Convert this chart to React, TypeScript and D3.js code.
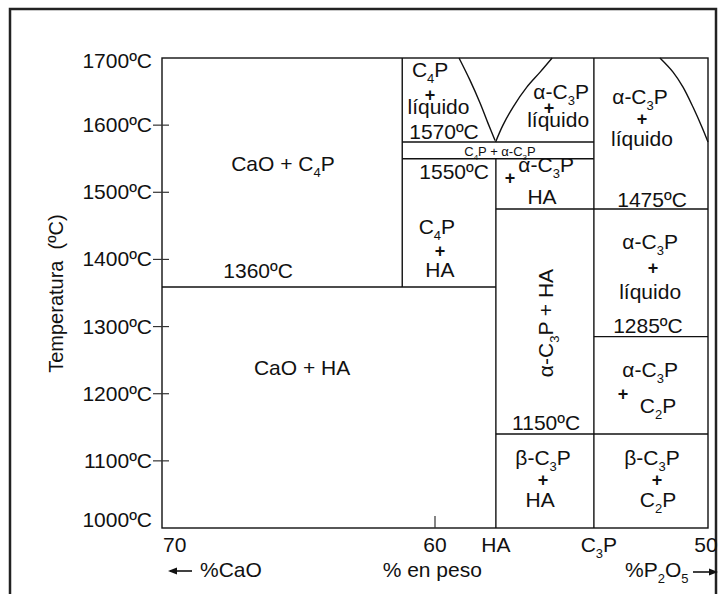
import React from "react";
import * as d3 from "d3";

// ---- data ----
const tempLabels = [1000, 1100, 1200, 1300, 1400, 1500, 1600, 1700];
const tempTicks = [1100, 1200, 1300, 1400, 1500, 1600];
const compTickLabels = ["70", "60", "HA", "C_3P", "50"];
const compTickValues = [70, 60, 57.77, 54.18, 50];
const compTickMarks = [60];

// key compositions (wt% CaO)
const C4P = 61.2;
const HA = 57.77;
const C3P = 54.18;

// invariant / boundary temperatures
const hSegments: [number, number, number][] = [
  [70, HA, 1359],
  [C4P, C3P, 1575],
  [C4P, C3P, 1550],
  [HA, 50, 1475],
  [C3P, 50, 1285],
  [HA, 50, 1140],
];
const vSegments: [number, number, number][] = [
  [C4P, 1359, 1700],
  [HA, 1000, 1550],
  [C3P, 1000, 1700],
];

// liquidus curves [wt% CaO, T]
const liquidusC4P: [number, number][] = [
  [59.12, 1700], [58.72, 1667], [58.35, 1633], [58.06, 1603], [57.8, 1577],
];
const liquidusC3Pleft: [number, number][] = [
  [57.78, 1575], [57.51, 1600], [57.14, 1627], [56.63, 1657], [56.15, 1679], [55.71, 1700],
];
const liquidusC3Pright: [number, number][] = [
  [51.76, 1700], [51.28, 1679], [50.92, 1657], [50.55, 1627], [50.22, 1597], [50.0, 1575],
];

// phase-field labels: [text, wt% CaO, T, font size]
const labels: [string, number, number, number][] = [
  ["CaO + C_4P", 65.57, 1531.7, 21],
  ["1360ºC", 66.48, 1372.3, 21],
  ["CaO + HA", 64.87, 1227.9, 21],
  ["C_4P", 59.93, 1437.9, 21],
  ["+", 59.82, 1403.6, 18],
  ["HA", 59.82, 1373.8, 21],
  ["1550ºC", 59.3, 1519.8, 21],
  ["C_4P + α-C_3P", 57.62, 1554, 13],
  ["C_4P", 60.18, 1671.7, 21],
  ["+", 60.18, 1636, 18],
  ["líquido", 59.87, 1616.6, 21],
  ["1570ºC", 59.67, 1579.4, 21],
  ["α-C_3P", 55.38, 1638.9, 21],
  ["+", 55.82, 1616.5, 18],
  ["líquido", 55.49, 1597.2, 21],
  ["α-C_3P", 55.93, 1530.2, 21],
  ["+", 57.25, 1512, 18],
  ["HA", 56.08, 1482.6, 21],
  ["α-C_3P", 52.49, 1632, 21],
  ["+", 52.42, 1600, 18],
  ["líquido", 52.42, 1569, 21],
  ["1475ºC", 52.05, 1478.1, 21],
  ["α-C_3P", 52.12, 1415.5, 21],
  ["+", 52.01, 1378, 18],
  ["líquido", 52.12, 1341.1, 21],
  ["1285ºC", 52.2, 1290.4, 21],
  ["α-C_3P", 52.12, 1224.9, 21],
  ["+", 53.11, 1190, 18],
  ["C_2P", 51.83, 1171.3, 21],
  ["1150ºC", 55.93, 1146, 21],
  ["β-C_3P", 56.04, 1093.8, 21],
  ["+", 56.04, 1062, 18],
  ["HA", 56.15, 1031.3, 21],
  ["β-C_3P", 52.05, 1093.8, 21],
  ["+", 51.87, 1062, 18],
  ["C_2P", 51.83, 1031.3, 21],
];
const rotatedLabel: [string, number, number] = ["α-C_3P + HA", 55.68, 1305.3];

const FONT = "'Liberation Sans', Arial, Helvetica, sans-serif";
const INK = "#111";

function Rich({ s, size }: { s: string; size: number }) {
  const parts = s.split(/(_\d)/).filter((p) => p.length);
  const sub = Math.round(size * 0.62);
  const shift = Math.round(size * 0.28);
  const out: React.ReactNode[] = [];
  let down = false;
  parts.forEach((p, i) => {
    if (p.startsWith("_")) {
      out.push(
        <tspan key={i} fontSize={sub} dy={shift}>
          {p.slice(1)}
        </tspan>
      );
      down = true;
    } else {
      out.push(
        <tspan key={i} dy={down ? -shift : 0}>
          {p}
        </tspan>
      );
      down = false;
    }
  });
  return <>{out}</>;
}

export default function App() {
  const W = 720;
  const H = 594;
  const x = d3.scaleLinear().domain([70, 50]).range([162, 708]);
  const y = d3.scaleLinear().domain([1000, 1700]).range([528, 58]);
  const line = d3
    .line<[number, number]>()
    .x((d) => x(d[0]))
    .y((d) => y(d[1]))
    .curve(d3.curveCatmullRom);

  return (
    <svg
      width={W}
      height={H}
      style={{ position: "absolute", left: 0, top: 0, background: "#fff" }}
      fontFamily={FONT}
    >
      <rect x={0} y={0} width={W} height={H} fill="#fff" />
      {/* outer frame */}
      <rect x={10} y={9} width={706} height={620} fill="none" stroke="#222" strokeWidth={2.5} />

      {/* plot frame */}
      <rect
        x={x(70)}
        y={y(1700)}
        width={x(50) - x(70)}
        height={y(1000) - y(1700)}
        fill="none"
        stroke={INK}
        strokeWidth={1.4}
      />

      {/* boundaries */}
      {hSegments.map(([a, b, t], i) => (
        <line key={"h" + i} x1={x(a)} x2={x(b)} y1={y(t)} y2={y(t)} stroke={INK} strokeWidth={1.4} />
      ))}
      {vSegments.map(([c, t1, t2], i) => (
        <line key={"v" + i} x1={x(c)} x2={x(c)} y1={y(t1)} y2={y(t2)} stroke={INK} strokeWidth={1.4} />
      ))}
      {[liquidusC4P, liquidusC3Pleft, liquidusC3Pright].map((d, i) => (
        <path key={"c" + i} d={line(d) || ""} fill="none" stroke={INK} strokeWidth={1.4} />
      ))}

      {/* y ticks */}
      {tempTicks.map((t) => (
        <line key={"yt" + t} x1={x(70) - 9} x2={x(70) + 7} y1={y(t)} y2={y(t)} stroke="#333" strokeWidth={1.2} />
      ))}
      {tempLabels.map((t) => {
        let yy = y(t) + 7;
        if (t === 1700) yy = y(t) + 10;
        if (t === 1000) yy = y(t) - 1;
        return (
          <text key={"yl" + t} x={x(70) - 10} y={yy} fontSize={21} textAnchor="end" fill={INK}>
            {t}ºC
          </text>
        );
      })}

      {/* x ticks */}
      {compTickMarks.map((c) => (
        <line key={"xt" + c} x1={x(c)} x2={x(c)} y1={y(1000)} y2={y(1000) - 12} stroke="#333" strokeWidth={1.2} />
      ))}
      {compTickLabels.map((l, i) => {
        const v = compTickValues[i];
        let anchor: "start" | "middle" | "end" = "middle";
        let xx = x(v);
        if (i === 0) {
          anchor = "start";
          xx = x(v) + 1;
        }
        if (i === 3) xx = x(v) + 5;
        if (i === 4) xx = x(v) - 2;
        return (
          <text key={"xl" + i} x={xx} y={552} fontSize={21} textAnchor={anchor} fill={INK}>
            <Rich s={l} size={21} />
          </text>
        );
      })}

      {/* axis titles */}
      <text
        transform={`translate(63, ${y(1300) - 33}) rotate(-90)`}
        fontSize={20}
        textAnchor="middle"
        fill={INK}
        style={{ whiteSpace: "pre" }}
      >
        {"Temperatura  (ºC)"}
      </text>
      <text x={x(60.1)} y={577} fontSize={21} textAnchor="middle" fill={INK}>
        % en peso
      </text>
      {/* %CaO arrow */}
      <line x1={x(70) + 8} x2={x(70) + 30} y1={571} y2={571} stroke={INK} strokeWidth={1.6} />
      <path d={`M${x(70) + 6},571 l9,-3.5 l0,7 z`} fill={INK} />
      <text x={x(70) + 38} y={577} fontSize={21} fill={INK}>
        %CaO
      </text>
      {/* %P2O5 arrow */}
      <text x={625} y={577} fontSize={21} fill={INK}>
        <Rich s="%P_2O_5" size={21} />
      </text>
      <line x1={693} x2={714} y1={572} y2={572} stroke={INK} strokeWidth={1.6} />
      <path d={`M718,572 l-9,-3.5 l0,7 z`} fill={INK} />

      {/* phase labels */}
      {labels.map(([s, c, t, size], i) => (
        <text
          key={"lab" + i}
          x={x(c)}
          y={y(t)}
          fontSize={size}
          textAnchor="middle"
          fill={INK}
          fontWeight={s === "+" ? "bold" : "normal"}
        >
          <Rich s={s} size={size} />
        </text>
      ))}
      <text
        transform={`translate(${x(rotatedLabel[1])}, ${y(rotatedLabel[2])}) rotate(-90)`}
        fontSize={21}
        textAnchor="middle"
        fill={INK}
      >
        <Rich s={rotatedLabel[0]} size={21} />
      </text>
    </svg>
  );
}
